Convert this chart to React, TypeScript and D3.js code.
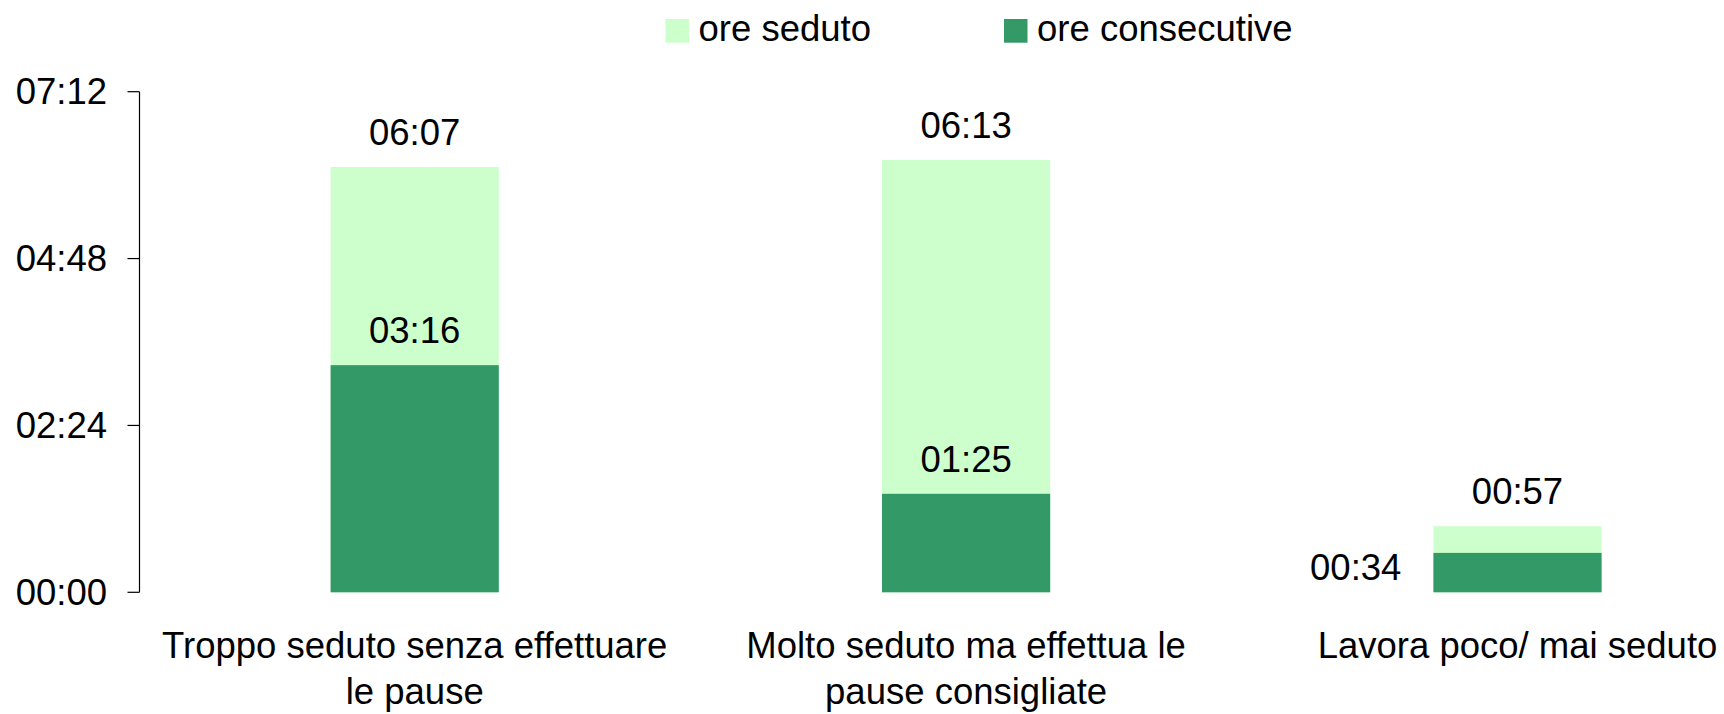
import React from "react";
import * as d3 from "d3";

const categories: string[][] = [
  ["Troppo seduto senza effettuare", "le pause"],
  ["Molto seduto ma effettua le", "pause consigliate"],
  ["Lavora poco/ mai seduto"],
];
const categoryKeys = ["c1", "c2", "c3"];
// minutes
const oreSeduto = [367, 373, 57];
const oreConsecutive = [196, 85, 34];
const yTicks = [0, 144, 288, 432];
const seriesNames = ["ore seduto", "ore consecutive"];
const colors = ["#CCFFCC", "#339966"];

const fmt = (m: number) => {
  const h = Math.floor(m / 60);
  const mm = Math.round(m % 60);
  return `${String(h).padStart(2, "0")}:${String(mm).padStart(2, "0")}`;
};

export default function App() {
  const W = 1724;
  const H = 714;
  const axisX = 139.5;
  const font = "'Liberation Sans', Arial, sans-serif";
  const fs = 36.5;

  const y = d3.scaleLinear().domain([0, 432]).range([592.3, 91.7]);
  const x = d3
    .scaleBand<string>()
    .domain(categoryKeys)
    .range([139, 1793.2])
    .paddingInner(0.695)
    .paddingOuter(0.3475);
  const bw = x.bandwidth();

  return (
    <svg
      width={W}
      height={H}
      style={{ position: "absolute", left: 0, top: 0, display: "block", background: "#fff" }}
      fontFamily={font}
    >
      <rect x={0} y={0} width={W} height={H} fill="#fff" />
      {/* legend */}
      {seriesNames.map((s, i) => {
        const lx = i === 0 ? 665.5 : 1004;
        return (
          <g key={s}>
            <rect x={lx} y={19} width={23.5} height={23.7} fill={colors[i]} />
            <text x={lx + 33} y={41.3} fontSize={fs} fill="#000">
              {s}
            </text>
          </g>
        );
      })}

      {/* y axis */}
      <line x1={axisX} x2={axisX} y1={y(432)} y2={y(0)} stroke="#000" strokeWidth={1.2} />
      {yTicks.map((t) => (
        <g key={t}>
          <line x1={axisX - 12} x2={axisX} y1={y(t)} y2={y(t)} stroke="#000" strokeWidth={1.2} />
          <text x={107} y={y(t) + 12.3} fontSize={fs} textAnchor="end" fill="#000">
            {fmt(t)}
          </text>
        </g>
      ))}

      {/* bars */}
      {categoryKeys.map((k, i) => {
        const x0 = x(k)!;
        const cx = x0 + bw / 2;
        const isLast = i === categoryKeys.length - 1;
        return (
          <g key={k}>
            <rect x={x0} y={y(oreSeduto[i])} width={bw} height={y(0) - y(oreSeduto[i])} fill={colors[0]} />
            <rect
              x={x0}
              y={y(oreConsecutive[i])}
              width={bw}
              height={y(0) - y(oreConsecutive[i])}
              fill={colors[1]}
            />
            <text x={cx} y={y(oreSeduto[i]) - 22} fontSize={fs} textAnchor="middle" fill="#000">
              {fmt(oreSeduto[i])}
            </text>
            {isLast ? (
              <text
                x={x0 - 32}
                y={(y(oreConsecutive[i]) + y(0)) / 2 + 7}
                fontSize={fs}
                textAnchor="end"
                fill="#000"
              >
                {fmt(oreConsecutive[i])}
              </text>
            ) : (
              <text x={cx} y={y(oreConsecutive[i]) - 22} fontSize={fs} textAnchor="middle" fill="#000">
                {fmt(oreConsecutive[i])}
              </text>
            )}
            {categories[i].map((line, j) => (
              <text key={j} x={cx} y={658 + j * 46} fontSize={fs} textAnchor="middle" fill="#000">
                {line}
              </text>
            ))}
          </g>
        );
      })}
    </svg>
  );
}
